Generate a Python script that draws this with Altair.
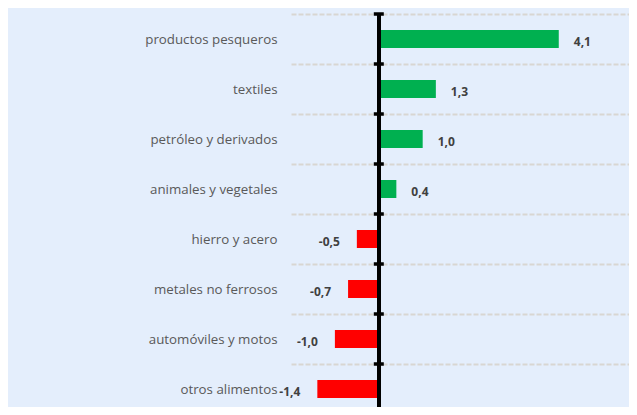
import altair as alt
import pandas as pd

categories = ["productos pesqueros", "textiles", "petróleo y derivados", "animales y vegetales",
              "hierro y acero", "metales no ferrosos", "automóviles y motos", "otros alimentos"]
values = [4.1, 1.3, 1.0, 0.4, -0.5, -0.7, -1.0, -1.4]
labels = ["4,1", "1,3", "1,0", "0,4", "-0,5", "-0,7", "-1,0", "-1,4"]

df = pd.DataFrame({"cat": categories, "value": values, "label": labels})

XMIN, XMAX = -2.0, 5.7
W, H = 338, 393

xs = alt.Scale(domain=[XMIN, XMAX], nice=False, zero=False)
ys = alt.Scale(domain=categories, range=[0, 400], paddingInner=0, paddingOuter=0)

y_axis = alt.Axis(title=None, domain=False, ticks=False, tickSize=0, labelPadding=14,
                  labelFont="Open Sans", labelFontSize=13.3, labelColor="#595959",
                  grid=True, gridColor="#D8D6D2", gridDash=[5, 2], gridWidth=2,
                  tickBand="extent", labelLimit=300)

base = alt.Chart(df)

bars = base.mark_bar(size=18).encode(
    x=alt.X("value:Q", scale=xs, axis=None),
    x2=alt.datum(0),
    y=alt.Y("cat:N", scale=ys, axis=y_axis),
    color=alt.condition("datum.value > 0", alt.value("#00B050"), alt.value("#FF0000")),
)

zero_line = base.mark_rule(color="black", strokeWidth=3.5).encode(
    x=alt.X(datum=0, scale=xs, axis=None),
)

ticks = base.mark_point(shape="M-1,-0.35L1,-0.35L1,0.35L-1,0.35Z", size=100, filled=True,
                        color="black", opacity=1, strokeWidth=0).encode(
    x=alt.X(datum=0, scale=xs, axis=None),
    y=alt.Y("cat:N", scale=ys, bandPosition=0),
)

txt_style = dict(fontWeight="bold", font="Open Sans", fontSize=12, color="#404040",
                 baseline="middle", dy=3)

pos_labels = base.transform_filter("datum.value > 0").mark_text(align="left", dx=15, **txt_style).encode(
    x=alt.X("value:Q", scale=xs, axis=None),
    y=alt.Y("cat:N", scale=ys),
    text="label:N",
)
neg_labels = base.transform_filter("datum.value < 0").mark_text(align="right", dx=-17, **txt_style).encode(
    x=alt.X("value:Q", scale=xs, axis=None),
    y=alt.Y("cat:N", scale=ys),
    text="label:N",
)

chart = alt.layer(bars, zero_line, ticks, pos_labels, neg_labels).properties(
    width=W, height=H,
    autosize="none",
    padding={"left": 283, "top": 6, "right": 0, "bottom": 0},
    background="#E4EEFC",
).configure_view(stroke=None)

chart.save("out.html", embed_options={"renderer": "svg", "actions": False})
